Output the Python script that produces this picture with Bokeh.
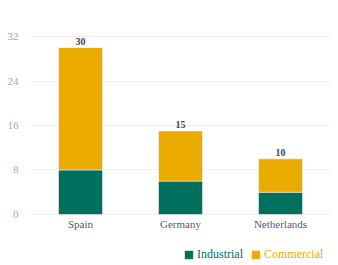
from bokeh.plotting import figure
from bokeh.models import ColumnDataSource, FixedTicker, Legend, LegendItem, LabelSet
from bokeh.embed import file_html
from bokeh.resources import INLINE

countries = ["Spain", "Germany", "Netherlands"]
industrial = [8, 6, 4]
commercial = [22, 9, 6]
totals = [i + c for i, c in zip(industrial, commercial)]
y_ticks = [0, 8, 16, 24, 32]

TEAL = "#00705e"
GOLD = "#ebaa00"
FONT = "Liberation Serif"

src = ColumnDataSource(dict(country=countries, Industrial=industrial,
                            Commercial=commercial, total=totals,
                            label=[str(t) for t in totals]))

# The frame runs down to the bottom edge so the legend can sit inside it;
# the negative part of the y range holds the category labels and legend.
p = figure(x_range=countries, y_range=(-9.17, 33.08), width=338, height=265,
           output_backend="svg", toolbar_location=None,
           min_border_left=30, min_border_right=8, min_border_top=30,
           min_border_bottom=0)

r = p.vbar_stack(["Industrial", "Commercial"], x="country", width=0.44,
                 color=[TEAL, GOLD], line_color="white", line_width=0.5,
                 source=src)

totals_lbl = LabelSet(x="country", y="total", text="label", source=src,
                      text_align="center", text_baseline="bottom", y_offset=3,
                      text_font=FONT, text_font_size="10px",
                      text_font_style="bold", text_color="#444444")
p.add_layout(totals_lbl)

cat_lbl = LabelSet(x="country", y=0, text="country", source=src,
                   text_align="center", text_baseline="top", y_offset=-4,
                   text_font=FONT, text_font_size="11px", text_color="#555a70")
p.add_layout(cat_lbl)

p.outline_line_color = None
p.xaxis.visible = False
p.xgrid.grid_line_color = None
p.ygrid.grid_line_color = "#f0f0f3"
p.ygrid.ticker = FixedTicker(ticks=y_ticks)
p.yaxis.ticker = FixedTicker(ticks=y_ticks)
p.yaxis.axis_line_color = None
p.yaxis.major_tick_line_color = None
p.yaxis.minor_tick_line_color = None
p.yaxis.major_label_text_color = "#9ea3c4"
p.yaxis.major_label_text_font = FONT
p.yaxis.major_label_text_font_size = "11px"
p.yaxis.major_label_standoff = 6
p.x_range.range_padding = 0.0

for rend, name, color, loc in [(r[0], "Industrial", TEAL, (153, 3)),
                               (r[1], "Commercial", GOLD, (220, 3))]:
    lg = Legend(items=[LegendItem(label=name, renderers=[rend])],
                location=loc, orientation="horizontal",
                label_text_color=color, label_text_font=FONT,
                label_text_font_size="12px", glyph_width=11, glyph_height=11,
                background_fill_alpha=0, border_line_color=None,
                padding=0, margin=0, spacing=4, label_standoff=3,
                label_height=12)
    p.add_layout(lg, "center")

open("out.html", "w").write(file_html(p, INLINE))
